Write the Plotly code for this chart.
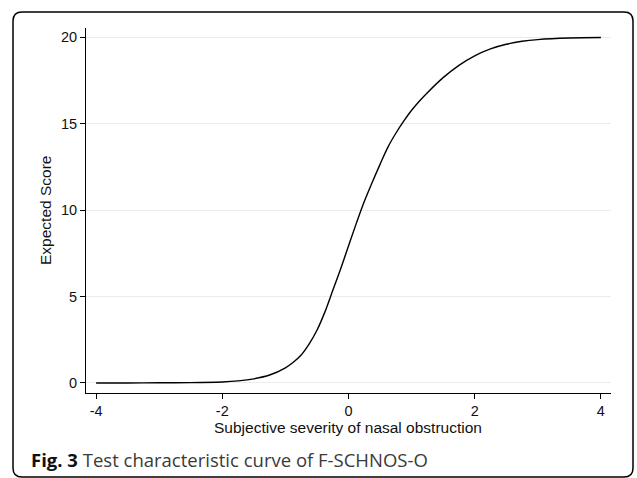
import plotly.graph_objects as go

# Test characteristic curve values
theta = [-4.0, -3.5, -3.0, -2.5, -2.0, -1.75, -1.5, -1.25, -1.0, -0.875, -0.75,
         -0.625, -0.5, -0.375, -0.25, -0.125, 0.0, 0.125, 0.25, 0.375, 0.5,
         0.625, 0.75, 0.875, 1.0, 1.125, 1.25, 1.5, 1.75, 2.0, 2.25, 2.5,
         2.75, 3.0, 3.5, 4.0]
expected_score = [0.00, 0.00, 0.01, 0.02, 0.06, 0.12, 0.24, 0.46, 0.88, 1.2, 1.62,
                  2.25, 3.05, 4.1, 5.35, 6.6, 7.93, 9.25, 10.5, 11.6, 12.65,
                  13.65, 14.45, 15.15, 15.78, 16.32, 16.8, 17.67, 18.38, 18.93, 19.33, 19.6,
                  19.77, 19.87, 19.96, 19.99]
x_ticks = [-4, -2, 0, 2, 4]
y_ticks = [0, 5, 10, 15, 20]

W, H = 637, 478
L, R, T, B = 86, 26, 28, 85
pw, ph = W - L - R, H - T - B

def px(xp):
    return (xp - L) / pw

def py(yp):
    return (H - B - yp) / ph

AXIS_FONT = "Liberation Sans, Arial, sans-serif"
AXIS_SIZE = 15.5
TICK_SIZE = 14.5

fig = go.Figure()
fig.add_trace(go.Scatter(
    x=theta, y=expected_score, mode="lines",
    line=dict(color="black", width=1.4, shape="spline", smoothing=1.0),
    hoverinfo="skip", showlegend=False,
))

# rounded frame (pixel positions converted to paper units)
x0, x1, y0, y1, r = 13, 633, 12, 477, 9
path = (f"M {px(x0 + r)},{py(y0)} L {px(x1 - r)},{py(y0)} "
        f"Q {px(x1)},{py(y0)} {px(x1)},{py(y0 + r)} "
        f"L {px(x1)},{py(y1 - r)} Q {px(x1)},{py(y1)} {px(x1 - r)},{py(y1)} "
        f"L {px(x0 + r)},{py(y1)} Q {px(x0)},{py(y1)} {px(x0)},{py(y1 - r)} "
        f"L {px(x0)},{py(y0 + r)} Q {px(x0)},{py(y0)} {px(x0 + r)},{py(y0)} Z")
fig.add_shape(type="path", path=path, xref="paper", yref="paper",
              line=dict(color="black", width=1.5), layer="below")

fig.add_annotation(text="Subjective severity of nasal obstruction", xref="paper", yref="paper",
                   x=px(348), y=py(427), xanchor="center", yanchor="middle", showarrow=False,
                   font=dict(family=AXIS_FONT, size=AXIS_SIZE, color="#111"))
fig.add_annotation(text="Expected Score", xref="paper", yref="paper", textangle=-90,
                   x=px(45), y=py(211), xanchor="center", yanchor="middle", showarrow=False,
                   font=dict(family=AXIS_FONT, size=AXIS_SIZE, color="#111"))
fig.add_annotation(text="<b>Fig. 3</b> <span style='color:#3a3a3a'>Test characteristic curve of F-SCHNOS-O</span>",
                   xref="paper", yref="paper", x=px(29), y=py(459), xanchor="left", yanchor="middle",
                   showarrow=False, font=dict(family="Open Sans, Noto Sans, sans-serif", size=18.5, color="#111"))

fig.update_xaxes(range=[-4.16, 4.16], tickvals=x_ticks, ticktext=[str(v) for v in x_ticks],
                 showline=True, linecolor="black", linewidth=1, ticks="outside", ticklen=5,
                 tickcolor="black", showgrid=False, zeroline=False, ticklabelstandoff=0,
                 tickfont=dict(family=AXIS_FONT, size=TICK_SIZE, color="#111"))
fig.update_yaxes(range=[-0.58, 20.54], tickvals=y_ticks, ticktext=[str(v) for v in y_ticks],
                 showline=True, linecolor="black", linewidth=1, ticks="outside", ticklen=5,
                 tickcolor="black", showgrid=True, gridcolor="#ebebeb", gridwidth=1, zeroline=False,
                 tickfont=dict(family=AXIS_FONT, size=TICK_SIZE, color="#111"))
fig.update_layout(width=W, height=H, margin=dict(l=L, r=R, t=T, b=B),
                  paper_bgcolor="white", plot_bgcolor="white")
fig.write_html("out.html", config={"displayModeBar": False},
               post_script="document.body.style.margin='0';")
